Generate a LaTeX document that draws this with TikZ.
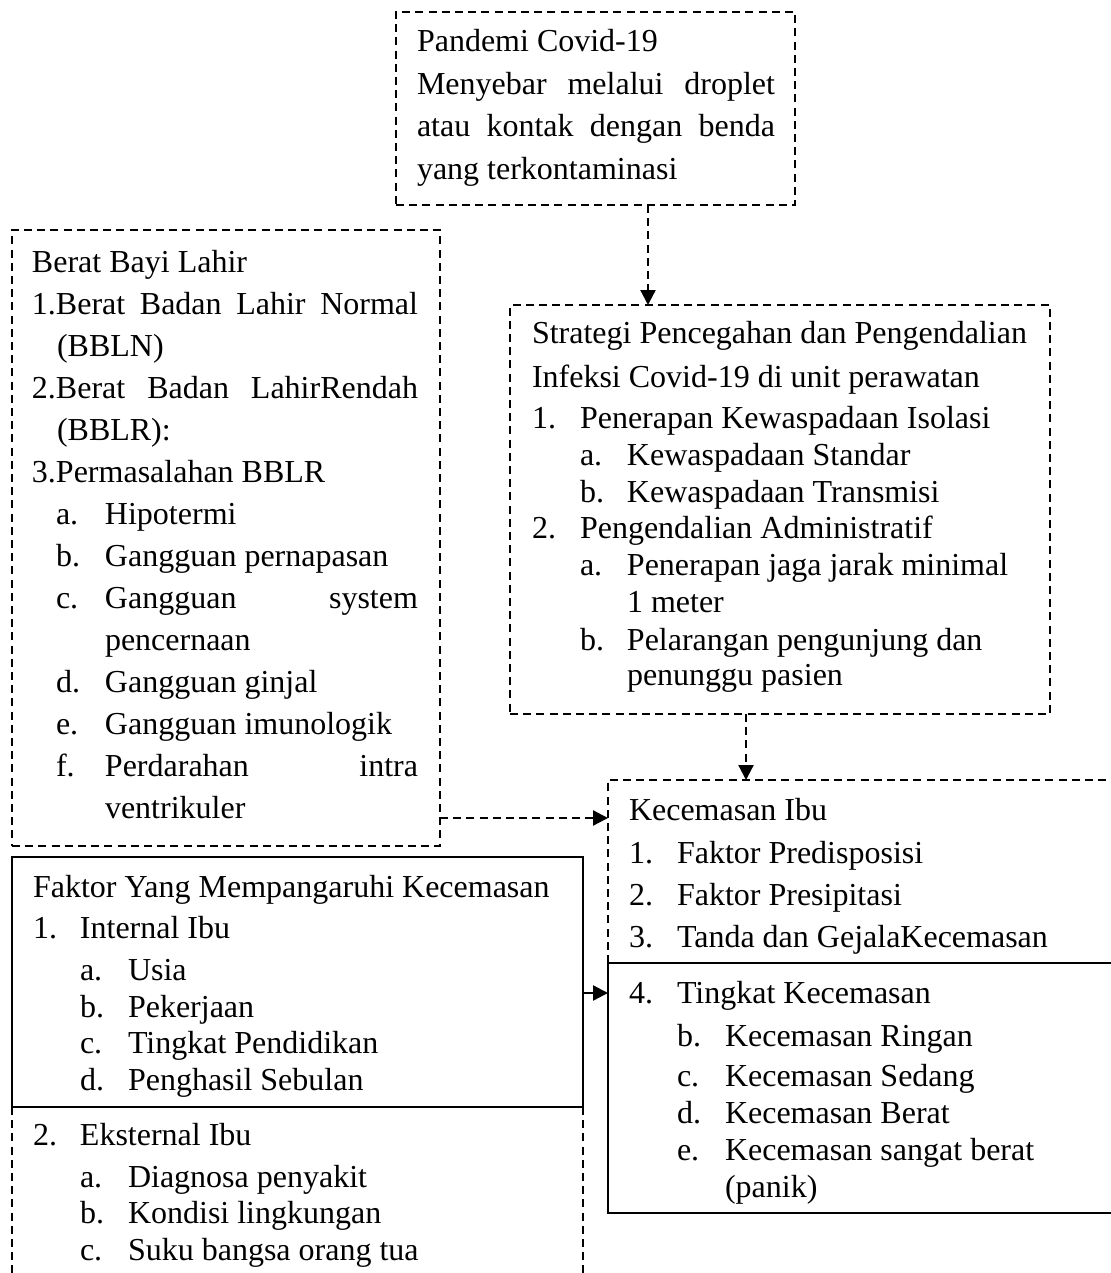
\documentclass[tikz,border=0pt]{standalone}
\usepackage{fontspec}
\setmainfont{Liberation Serif}
\usetikzlibrary{arrows.meta,fit}
\newcommand\TL[4]{\node[txt] (#1) at (#2,#3) {#4};}
\newcommand\itemlab[2]{\makebox[#1][l]{#2}}
\tikzset{
  txt/.style={anchor=base west, inner sep=0pt, outer sep=0pt, font=\fontsize{16}{19}\selectfont},
  dline/.style={line width=1.15pt, dash pattern=on 4pt off 2.6pt},
  sline/.style={line width=1.15pt},
  arr/.style={-{Triangle[length=7.5pt,width=7.5pt]}},
  boxfit/.style={inner sep=0pt, outer sep=0pt}
}
\begin{document}
\begin{tikzpicture}[x=0.5pt,y=-0.5pt]
\useasboundingbox (0,0) rectangle (1111,1273);
\clip (0,0) rectangle (1111,1273);
\fill[white] (0,0) rectangle (1111,1273);

% boxes
\node[boxfit, fit={(396,12) (795,205)}, draw, dline] (top) {};
\node[boxfit, fit={(510,305) (1050,714)}, draw, dline] (strat) {};
\node[boxfit, fit={(12,230) (440,846)}, draw, dline] (bbl) {};
\node[boxfit, fit={(12,857) (583,1107)}, draw, sline] (fak) {};
\node[boxfit, fit={(608,780) (1125,1213)}] (kec) {};
\coordinate (kmid) at (608,963);
\coordinate (kmidr) at (1125,963);

% lower dashed part of Faktor box
\draw[dline] (fak.south west) -- ++(0,190);
\draw[dline] (fak.south east) -- ++(0,190);

% Kecemasan box: dashed upper part, solid lower part
\draw[dline] (kmid) -- (kec.north west) -- (kec.north east);
\draw[sline] (kmidr) -- (kmid) -- (kec.south west) -- (kec.south east);

% connectors
\coordinate (ax1) at (648,0);
\coordinate (ax2) at (746,0);
\coordinate (ay1) at (0,818);
\coordinate (ay2) at (0,993);
\draw[dline,arr] (top.south -| ax1) -- (strat.north -| ax1);
\draw[dline,arr] (strat.south -| ax2) -- (kec.north -| ax2);
\draw[dline,arr] (bbl.east |- ay1) -- (kec.west |- ay1);
\draw[sline,arr] (fak.east |- ay2) -- (kec.west |- ay2);

% top box text
\TL{t1}{417}{52}{Pandemi Covid-19}
\TL{t2}{417}{94.5}{\makebox[179pt][s]{Menyebar melalui droplet}}
\TL{t3}{417}{137}{\makebox[179pt][s]{atau kontak dengan benda}}
\TL{t4}{417}{179.5}{yang terkontaminasi}

% Berat Bayi Lahir
\TL{b1}{32}{272}{Berat Bayi Lahir}
\TL{b2}{32}{314}{\makebox[193pt][s]{1.Berat Badan Lahir Normal}}
\TL{b3}{57}{356}{(BBLN)}
\TL{b4}{32}{398}{\makebox[193pt][s]{2.Berat Badan LahirRendah}}
\TL{b5}{57}{440}{(BBLR):}
\TL{b6}{32}{482}{3.Permasalahan BBLR}
\TL{b7}{56}{524}{\itemlab{24.5pt}{a.}Hipotermi}
\TL{b8}{56}{566}{\itemlab{24.5pt}{b.}Gangguan pernapasan}
\TL{b9}{56}{608}{\itemlab{24.5pt}{c.}\makebox[156.5pt][s]{Gangguan system}}
\TL{b10}{105}{650}{pencernaan}
\TL{b11}{56}{692}{\itemlab{24.5pt}{d.}Gangguan ginjal}
\TL{b12}{56}{734}{\itemlab{24.5pt}{e.}Gangguan imunologik}
\TL{b13}{56}{776}{\itemlab{24.5pt}{f.}\makebox[156.5pt][s]{Perdarahan intra}}
\TL{b14}{105}{818}{ventrikuler}

% Strategi
\TL{s1}{532}{343}{Strategi Pencegahan dan Pengendalian}
\TL{s2}{532}{387}{Infeksi Covid-19 di unit perawatan}
\TL{s3}{532}{428}{\itemlab{24pt}{1.}Penerapan Kewaspadaan Isolasi}
\TL{s4}{580}{465}{\itemlab{23.5pt}{a.}Kewaspadaan Standar}
\TL{s5}{580}{502}{\itemlab{23.5pt}{b.}Kewaspadaan Transmisi}
\TL{s6}{532}{538}{\itemlab{24pt}{2.}Pengendalian Administratif}
\TL{s7}{580}{575}{\itemlab{23.5pt}{a.}Penerapan jaga jarak minimal}
\TL{s8}{627}{612}{1 meter}
\TL{s9}{580}{650}{\itemlab{23.5pt}{b.}Pelarangan pengunjung dan}
\TL{s10}{627}{685}{penunggu pasien}

% Kecemasan Ibu
\TL{k1}{629}{820}{Kecemasan Ibu}
\TL{k2}{629}{863}{\itemlab{24pt}{1.}Faktor Predisposisi}
\TL{k3}{629}{905}{\itemlab{24pt}{2.}Faktor Presipitasi}
\TL{k4}{629}{947}{\itemlab{24pt}{3.}Tanda dan GejalaKecemasan}
\TL{k5}{629}{1003}{\itemlab{24pt}{4.}Tingkat Kecemasan}
\TL{k6}{677}{1046}{\itemlab{24pt}{b.}Kecemasan Ringan}
\TL{k7}{677}{1086}{\itemlab{24pt}{c.}Kecemasan Sedang}
\TL{k8}{677}{1123}{\itemlab{24pt}{d.}Kecemasan Berat}
\TL{k9}{677}{1160}{\itemlab{24pt}{e.}Kecemasan sangat berat}
\TL{k10}{725}{1197}{(panik)}

% Faktor
\TL{f1}{33}{897}{Faktor Yang Mempangaruhi Kecemasan}
\TL{f2}{33}{938}{\itemlab{23.5pt}{1.}Internal Ibu}
\TL{f3}{80}{980}{\itemlab{24pt}{a.}Usia}
\TL{f4}{80}{1017}{\itemlab{24pt}{b.}Pekerjaan}
\TL{f5}{80}{1053}{\itemlab{24pt}{c.}Tingkat Pendidikan}
\TL{f6}{80}{1090}{\itemlab{24pt}{d.}Penghasil Sebulan}
\TL{f7}{33}{1145}{\itemlab{23.5pt}{2.}Eksternal Ibu}
\TL{f8}{80}{1187}{\itemlab{24pt}{a.}Diagnosa penyakit}
\TL{f9}{80}{1223}{\itemlab{24pt}{b.}Kondisi lingkungan}
\TL{f10}{80}{1260}{\itemlab{24pt}{c.}Suku bangsa orang tua}
\end{tikzpicture}
\end{document}
